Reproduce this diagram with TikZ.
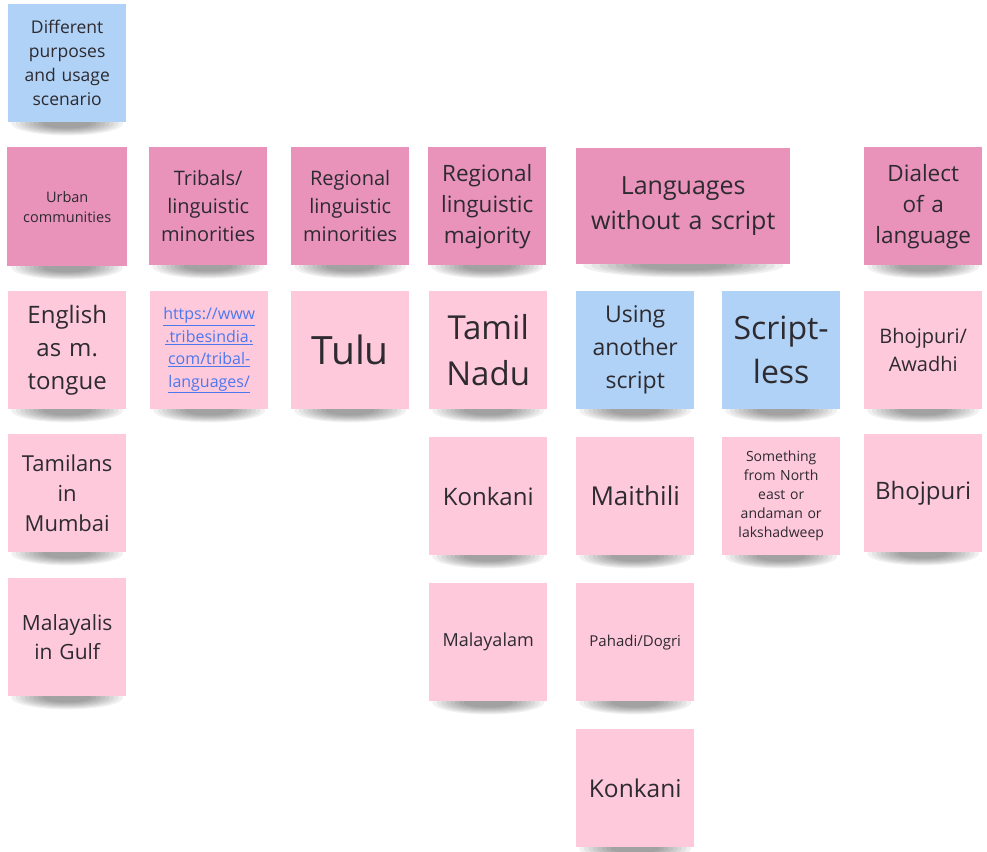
\documentclass[tikz,border=0pt]{standalone}
\usepackage{fontspec}
\setmainfont{Open Sans}
\usetikzlibrary{positioning}
\usetikzlibrary{backgrounds}

\definecolor{darkpink}{RGB}{233,147,186}
\definecolor{lightpink}{RGB}{255,201,220}
\definecolor{skyblue}{RGB}{176,210,246}
\definecolor{inkgray}{RGB}{45,42,48}
\definecolor{linkblue}{RGB}{76,120,238}

\newcommand{\fsz}[2]{\fontsize{#1}{#2}\selectfont}
\newcommand{\lnk}[1]{\underline{#1}}

\tikzstyle{note} = [rectangle, anchor=north west, minimum width=118pt, minimum height=118pt, inner sep=0pt, align=center, text=inkgray, text width=110pt]
\tikzstyle{darknote} = [note, fill=darkpink]
\tikzstyle{lightnote} = [note, fill=lightpink]
\tikzstyle{bluenote} = [note, fill=skyblue]
\tikzstyle{shadowlayer} = [fill=black, fill opacity=0.055]

\begin{document}
\begin{tikzpicture}[x=1pt, y=-1pt]
\useasboundingbox (0,0) rectangle (987,851);

% top card
\node[bluenote, font=\fsz{17.5}{24}] (usage) at (8,4) {Different\\purposes\\and usage\\scenario};

% header row
\node[darknote, minimum width=120pt, minimum height=119pt, font=\fsz{14.5}{20}] (urban) at (7,147) {Urban\\communities};
\node[darknote, font=\fsz{20}{28}] (tribal) at (149,147) {Tribals/\\linguistic\\minorities};
\node[darknote, font=\fsz{20}{28}] (regmin) at (291,147) {Regional\\linguistic\\minorities};
\node[darknote, font=\fsz{22.5}{31}] (regmaj) at (428,147) {Regional\\linguistic\\majority};
\node[darknote, minimum width=214pt, minimum height=116pt, text width=206pt, font=\fsz{25}{35}] (noscript) at (576,148) {Languages\\without a script};
\node[darknote, font=\fsz{22.5}{31}] (dialect) at (864,147) {Dialect\\of a\\language};

% second row
\node[lightnote, font=\fsz{24}{33}] (english) at (8,291) {English\\as m.\\tongue};
\node[lightnote, font=\fsz{16}{22.5}, text=linkblue] (link) at (150,291) {\lnk{https://www}\\\lnk{.tribesindia.}\\\lnk{com/tribal-}\\\lnk{languages/}};
\node[lightnote, font=\fsz{39}{50}] (tulu) at (291,291) {Tulu};
\node[lightnote, font=\fsz{33}{46}] (tamilnadu) at (429,291) {Tamil\\Nadu};
\node[bluenote, font=\fsz{23}{33}] (another) at (576,291) {Using\\another\\script};
\node[bluenote, font=\fsz{32}{44}] (scriptless) at (722,291) {Script-\\less};
\node[lightnote, font=\fsz{20}{28}] (bhoawa) at (864,291) {Bhojpuri/\\Awadhi};

% third row
\node[lightnote, font=\fsz{22}{30}] (tamilans) at (8,434) {Tamilans\\in\\Mumbai};
\node[lightnote, font=\fsz{24}{33}] (konkani) at (429,437) {Konkani};
\node[lightnote, font=\fsz{26}{35}] (maithili) at (576,437) {Maithili};
\node[lightnote, font=\fsz{14}{19}] (northeast) at (722,437) {Something\\from North\\east or\\andaman or\\lakshadweep};
\node[lightnote, font=\fsz{24}{33}] (bhojpuri) at (864,434) {Bhojpuri};

% fourth row
\node[lightnote, font=\fsz{21}{29}] (malayalis) at (8,578) {Malayalis\\in Gulf};
\node[lightnote, font=\fsz{18}{25}] (malayalam) at (429,583) {Malayalam};
\node[lightnote, font=\fsz{15}{21}] (pahadi) at (576,583) {Pahadi/Dogri};

% last row
\node[lightnote, font=\fsz{24.5}{33}] (konkanib) at (576,729) {Konkani};

% soft shadows under the cards
\begin{scope}[on background layer]
\foreach \n in {usage,urban,tribal,regmin,regmaj,dialect,english,link,tulu,tamilnadu,another,scriptless,bhoawa,tamilans,konkani,maithili,northeast,bhojpuri,malayalis,malayalam,pahadi,konkanib}
  \foreach \k in {0,...,7}
    \fill[shadowlayer] ([yshift=-1pt]\n.south) ellipse ({56pt-4.5pt*\k} and {12pt-1pt*\k});
\foreach \k in {0,...,7}
  \fill[shadowlayer] ([yshift=-1pt]noscript.south) ellipse ({100pt-8pt*\k} and {12pt-1pt*\k});
\end{scope}

\end{tikzpicture}
\end{document}
